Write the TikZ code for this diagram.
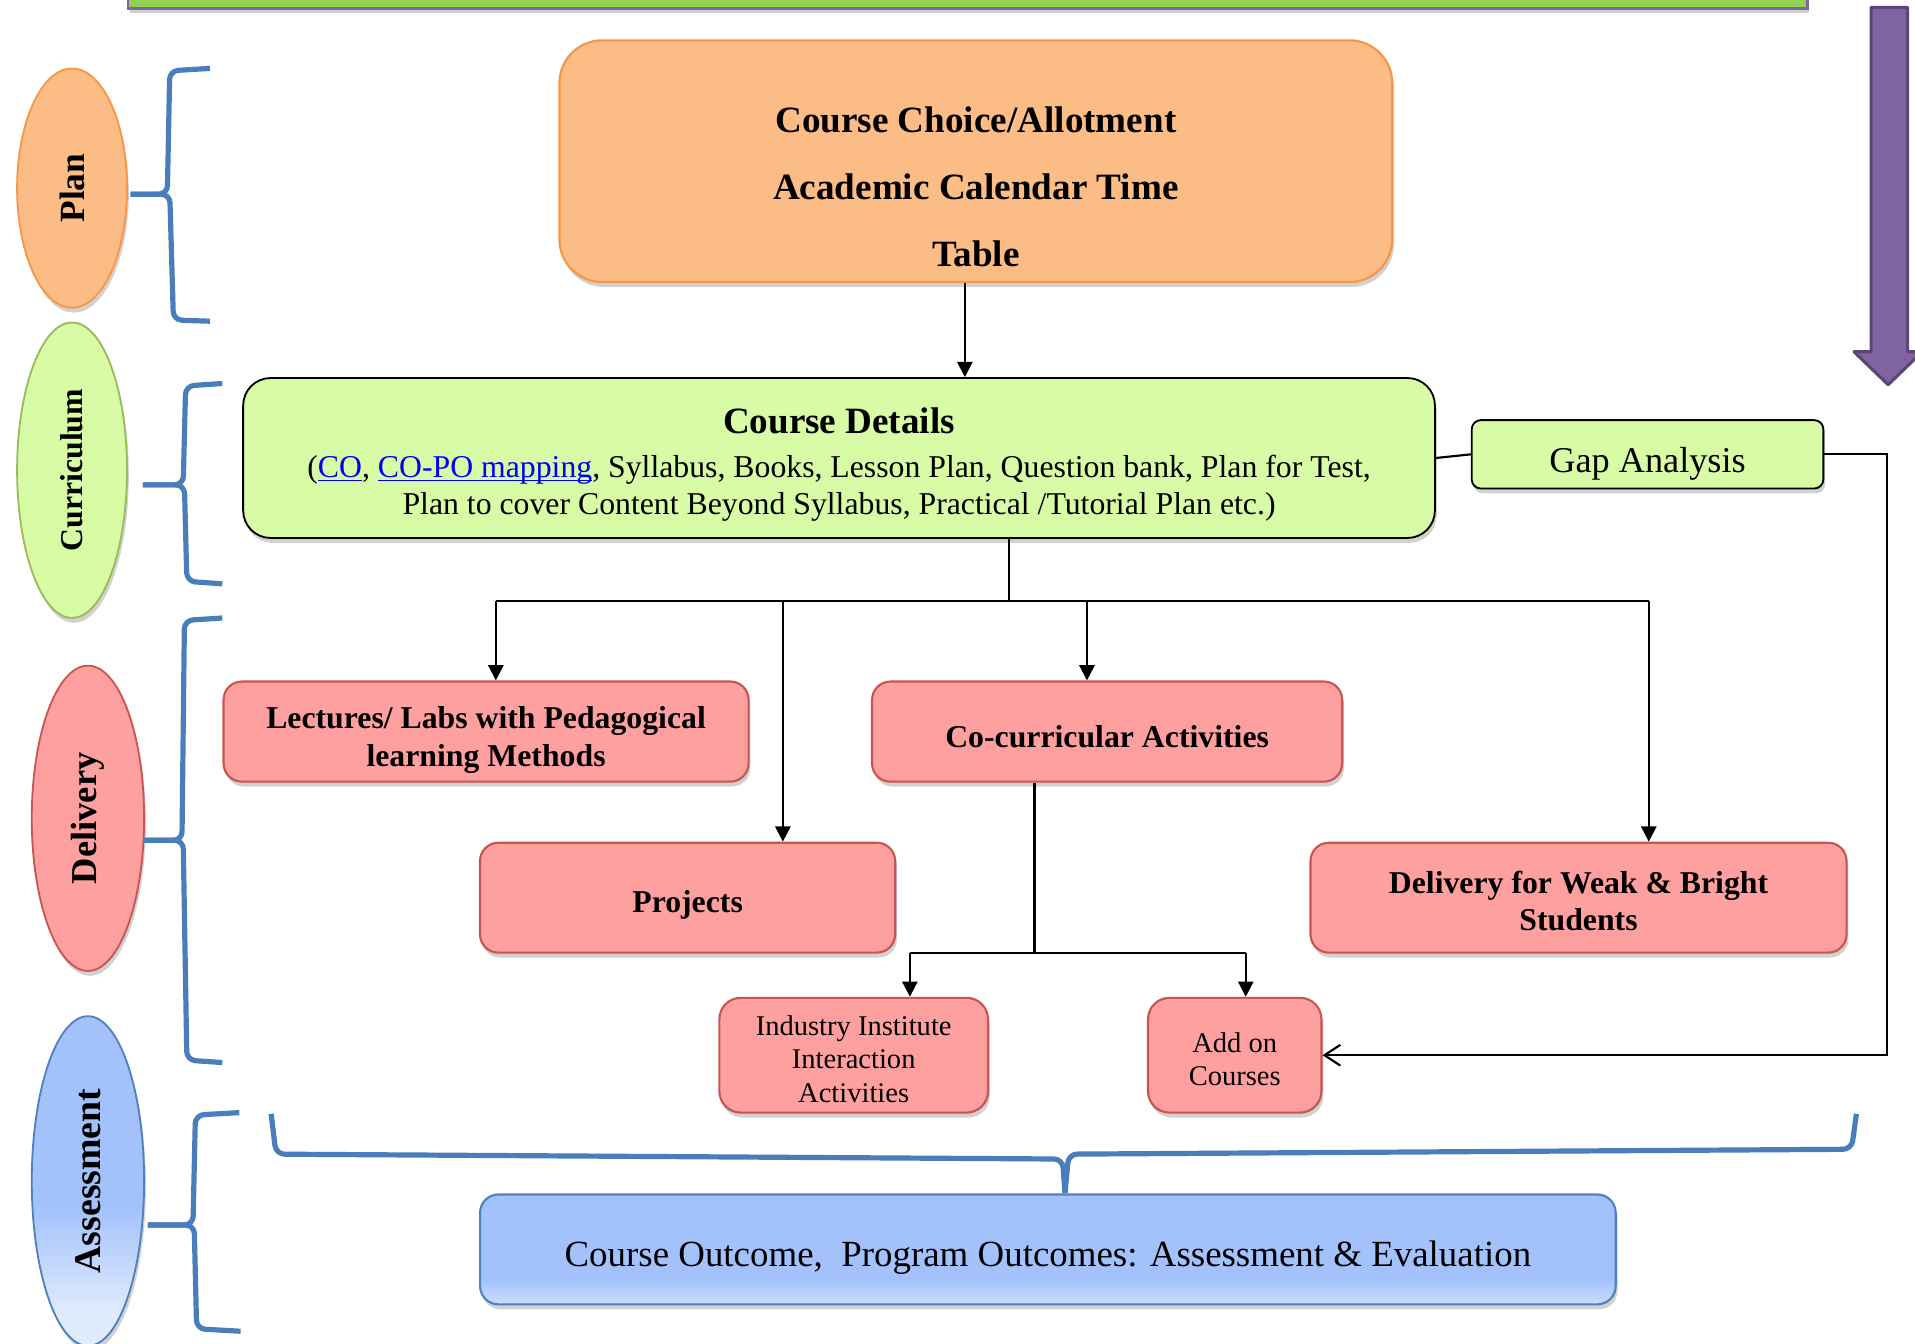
\documentclass[tikz,border=0pt]{standalone}
\usepackage{fontspec}
\usepackage{graphicx}
\setmainfont{Liberation Serif}
\usetikzlibrary{shapes.geometric,arrows.meta,shadows,calc}
\definecolor{orangeF}{RGB}{251,189,133}
\definecolor{orangeB}{RGB}{247,150,70}
\definecolor{greenF}{RGB}{216,251,165}
\definecolor{greenB}{RGB}{155,187,89}
\definecolor{pinkF}{RGB}{255,160,160}
\definecolor{pinkB}{RGB}{200,85,82}
\definecolor{blueA}{RGB}{163,194,252}
\definecolor{blueL}{RGB}{224,235,253}
\definecolor{blueB}{RGB}{79,129,189}
\definecolor{braceC}{RGB}{74,126,187}
\definecolor{barG}{RGB}{146,208,80}
\definecolor{purpleF}{RGB}{128,100,162}
\definecolor{purpleB}{RGB}{92,70,120}
\definecolor{linkblue}{RGB}{0,0,255}
\pgfdeclareverticalshading{ellfade}{100bp}{color(0bp)=(blueL); color(30bp)=(blueL); color(46bp)=(blueA); color(100bp)=(blueA)}
\pgfdeclareverticalshading{boxfade}{100bp}{color(0bp)=(blueL); color(26bp)=(blueL!60!blueA); color(36bp)=(blueA); color(100bp)=(blueA)}
\newcommand{\fsz}[2]{\fontsize{#1}{#2}\selectfont}
\newcommand{\dn}[1]{\rule{0pt}{#1}}
\newcommand{\lnk}[1]{\textcolor{linkblue}{\setbox0\hbox{#1}\rlap{\rule[-1.6pt]{\wd0}{0.7pt}}\box0}}
\tikzset{
  dsh/.style={drop shadow={shadow xshift=0.03cm, shadow yshift=-0.08cm, opacity=0.3, fill=black!60}},
  ell/.style={ellipse, inner sep=0pt, line width=0.03cm, dsh},
  boxbase/.style={rectangle, inner sep=2pt, align=center, dsh},
  orangebox/.style={boxbase, fill=orangeF, draw=orangeB, line width=0.035cm, rounded corners=0.7cm},
  greenbox/.style={boxbase, fill=greenF, draw=black, line width=0.03cm},
  pinkbox/.style={boxbase, fill=pinkF, draw=pinkB, line width=0.035cm, rounded corners=0.3cm},
  bluebox/.style={boxbase, shading=boxfade, draw=blueB, line width=0.035cm, rounded corners=0.3cm},
  conn/.style={draw=black, line width=0.035cm},
  arr/.style={conn, -{Triangle[length=0.25cm, width=0.25cm]}},
  openarr/.style={conn, -{Straight Barb[length=0.26cm, width=0.34cm]}},
  brc/.style={draw=braceC, line width=0.085cm, rounded corners=4pt},
}
\begin{document}
\begin{tikzpicture}[x=0.02cm, y=-0.02cm]
\useasboundingbox (0,0) rectangle (1568,1100);

% top bar
\path[fill=barG, draw=purpleF, line width=0.04cm, dsh] (105,-40) rectangle (1480,7);

% purple arrow
\draw[fill=purpleF, draw=purpleB, line width=0.05cm, line join=round]
  (1532,6) -- (1562,6) -- (1562,288) -- (1574,288) -- (1546,315) -- (1518,288) -- (1532,288) -- cycle;

% left ellipses
\node[ell, fill=orangeF, draw=orangeB, minimum width=1.8cm, minimum height=3.92cm] (plan) at (59,154)
  {\rotatebox{90}{\fsz{16.5}{20}\bfseries Plan}};
\node[ell, fill=greenF, draw=greenB, minimum width=1.8cm, minimum height=4.84cm] (curr) at (59,385)
  {\rotatebox{90}{\fsz{14.8}{18}\bfseries Curriculum}};
\node[ell, fill=pinkF, draw=pinkB, minimum width=1.84cm, minimum height=5.0cm] (deliv) at (72,670)
  {\rotatebox{90}{\fsz{17}{20}\bfseries Delivery}};
\node[ell, shading=ellfade, draw=blueB, minimum width=1.84cm, minimum height=5.4cm] (assess) at (72,967)
  {\rotatebox{90}{\fsz{17.6}{20}\bfseries Assessment}};

% braces
\draw[brc] (172,56) -- (139,58) -- (137,159) -- (107,159);
\draw[brc] (107,159) -- (139,159) -- (142,262) -- (172,263);
\draw[brc] (182,314) -- (152,316) -- (150,397) -- (117,397);
\draw[brc] (117,397) -- (151,397) -- (153,476) -- (182,478);
\draw[brc] (182,506) -- (151,508) -- (149,688) -- (118,688);
\draw[brc] (118,688) -- (150,688) -- (153,868) -- (182,870);
\draw[brc] (196,911) -- (160,913) -- (158,1003) -- (121,1003);
\draw[brc] (121,1003) -- (159,1003) -- (161,1088) -- (197,1090);
\draw[brc] (222,912) -- (226,945) -- (870,949) -- (872,977);
\draw[brc] (872,977) -- (875,945) -- (1516,941) -- (1520,912);

% boxes
\node[orangebox, minimum width=13.64cm, minimum height=3.96cm] (orange) at (799,132) {};
\node[align=center, font=\bfseries\fsz{17.3}{31.3}] (orangetxt) at (799,153)
  {Course Choice/Allotment\\Academic Calendar Time\\Table};

\node[greenbox, rounded corners=0.45cm, minimum width=19.52cm, minimum height=2.62cm, font=\fsz{14.8}{17.1}] (details) at (687,375)
  {\dn{18.1pt}{\fsz{17.3}{20}\bfseries Course Details}\\[3.4pt]
   (\lnk{CO}, \lnk{CO-PO mapping}, Syllabus, Books, Lesson Plan, Question bank, Plan for Test,\\
   Plan to cover Content Beyond Syllabus, Practical /Tutorial Plan etc.)};

\node[greenbox, rounded corners=0.15cm, minimum width=5.76cm, minimum height=1.12cm, font=\fsz{16.9}{20}] (gap) at (1349,372) {\dn{20.8pt}Gap Analysis};

\node[pinkbox, minimum width=8.6cm, minimum height=1.64cm, font=\bfseries\fsz{14.8}{17.6}] (lectures) at (398,599)
  {\dn{18.2pt}Lectures/ Labs with Pedagogical\\learning Methods};
\node[pinkbox, minimum width=7.7cm, minimum height=1.64cm, font=\bfseries\fsz{14.8}{17.6}] (cocurr) at (906.5,599)
  {\dn{14.8pt}Co-curricular Activities};
\node[pinkbox, minimum width=6.8cm, minimum height=1.8cm, font=\bfseries\fsz{14.8}{17.6}] (projects) at (563,735)
  {\dn{16.7pt}Projects};
\node[pinkbox, minimum width=8.78cm, minimum height=1.8cm, font=\bfseries\fsz{14.8}{17.6}] (weak) at (1292.5,735)
  {\dn{13.6pt}Delivery for Weak \& Bright\\Students};
\node[pinkbox, rounded corners=0.35cm, minimum width=4.4cm, minimum height=1.88cm, font=\fsz{13.3}{15.6}] (industry) at (699,864)
  {\dn{12.6pt}Industry Institute\\Interaction\\Activities};
\node[pinkbox, rounded corners=0.35cm, minimum width=2.84cm, minimum height=1.88cm, font=\fsz{13.3}{15.4}] (addon) at (1011,864)
  {\dn{12.6pt}Add on\\Courses};

\node[bluebox, minimum width=18.6cm, minimum height=1.8cm, font=\fsz{17.2}{20}] (outcome) at (858,1023)
  {\dn{19.7pt}Course Outcome,\ \ Program Outcomes: Assessment \& Evaluation};

% connectors
\draw[arr] ([xshift=-0.18cm]orange.south) -- ([xshift=-0.18cm]orange.south |- details.north);

\coordinate (j1) at (826,492);
\coordinate (bL) at (406,492);
\coordinate (bP) at (641,492);
\coordinate (bC) at (890,492);
\coordinate (bR) at (1350,492);
\draw[conn] (details.south -| j1) -- (j1);
\draw[conn] (bL) -- (bR);
\draw[arr] (bL) -- (lectures.north -| bL);
\draw[arr] (bP) -- (projects.north -| bP);
\draw[arr] (bC) -- (cocurr.north -| bC);
\draw[arr] (bR) -- (weak.north -| bR);

\coordinate (j2) at (847,780);
\coordinate (cL) at (745,780);
\coordinate (cR) at (1020,780);
\draw[conn] (cocurr.south -| j2) -- (j2);
\draw[conn] (cL) -- (cR);
\draw[arr] (cL) -- (industry.north -| cL);
\draw[arr] (cR) -- (addon.north -| cR);

\draw[conn] (details.east) -- (gap.west);
\coordinate (g1) at (1545,372);
\draw[openarr] (gap.east) -- (gap.east -| g1) -- (addon.east -| g1) -- (addon.east);
\end{tikzpicture}
\end{document}
